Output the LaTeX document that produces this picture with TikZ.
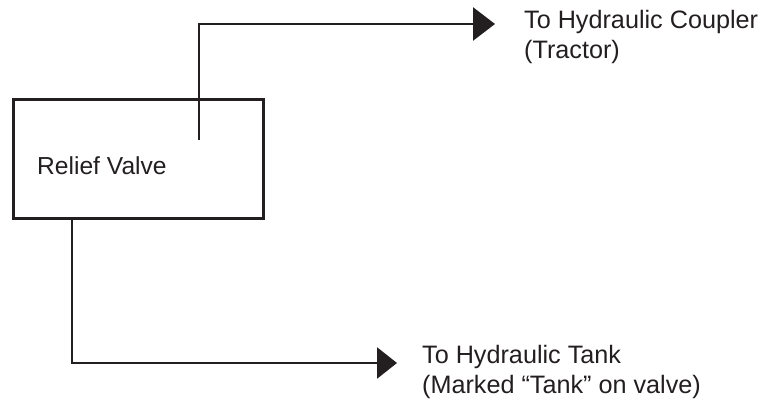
\documentclass[tikz,border=0pt]{standalone}
\usepackage{fontspec}
\setmainfont{Liberation Sans}
\usetikzlibrary{arrows.meta}
\definecolor{ink}{HTML}{231F20}
\begin{document}
\begin{tikzpicture}[x=1pt,y=-1pt,
  wire/.style={draw=ink,line width=2.8pt},
  valvebox/.style={draw=ink,line width=2.8pt,minimum width=250pt,minimum height=119pt,inner sep=0pt,anchor=north west},
  lbl/.style={text=ink,inner sep=0pt,anchor=base west,align=left,font=\fontsize{25.2}{30}\selectfont},
  bigtip/.style={-{Triangle[length=22pt,width=33pt]}}]
\useasboundingbox (0,0) rectangle (765,403);
\node[valvebox] (valve) at (12,98) {};
\node[lbl,font=\fontsize{24.6}{29}\selectfont] (vlabel) at (37,175) {Relief Valve};
\coordinate (s1) at (199,140);
\coordinate (t1) at (495,24);
\coordinate (s2) at (72,217);
\coordinate (t2) at (397,363);
\draw[wire,bigtip] (s1) |- (t1);
\draw[wire,-{Triangle[length=20pt,width=31pt]}] (s2) |- (t2);
\node[lbl] (coupler) at (524,59) {To Hydraulic Coupler\\(Tractor)};
\node[lbl] (tank) at (422,393) {To Hydraulic Tank\\(Marked “Tank” on valve)};
\end{tikzpicture}
\end{document}
